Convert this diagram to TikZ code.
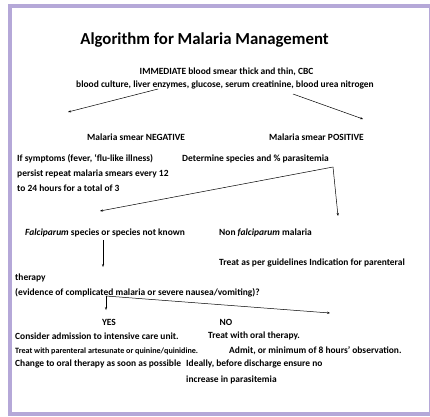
\documentclass[tikz,border=0pt]{standalone}
\usepackage{fontspec}
\setmainfont{Carlito}
\usetikzlibrary{arrows.meta}
\definecolor{frame}{RGB}{181,168,216}
\tikzset{
  base/.style={inner sep=0pt,font=\bfseries\fontsize{9.45}{11}\selectfont},
  txt/.style={base,anchor=west},
  small/.style={anchor=west,inner sep=0pt,font=\bfseries\fontsize{8.1}{9}\selectfont},
  arr/.style={-{Stealth[length=3pt,width=2.2pt]},line width=0.5pt,black}
}
\begin{document}
\begin{tikzpicture}[x=1pt,y=-1pt]
\useasboundingbox (0,0) rectangle (430,416);
\fill[frame] (8,4) rectangle (430,416);
\fill[white] (12,8) rectangle (428.7,412);
\node[inner sep=0pt,font=\bfseries\fontsize{16.8}{20}\selectfont] (title) at (204.5,40) {Algorithm for Malaria Management};
\node[base] (imm) at (226.5,72) {IMMEDIATE blood smear thick and thin, CBC};
\node[base] (cult) at (225,85) {blood culture, liver enzymes, glucose, serum creatinine, blood urea nitrogen};
\coordinate (a1s) at (158,89); \coordinate (a1e) at (68,112);
\coordinate (a2s) at (293,94); \coordinate (a2e) at (363,119);
\draw[arr] (a1s) -- (a1e);
\draw[arr] (a2s) -- (a2e);
\node[txt] (neg) at (87,137) {Malaria smear NEGATIVE};
\node[txt] (pos) at (269,137) {Malaria smear POSITIVE};
\node[txt] (sym1) at (17,159) {If symptoms (fever, ‘flu-like illness)};
\node[txt] (sym2) at (17,174) {persist repeat malaria smears every 12};
\node[txt] (sym3) at (17,188) {to 24 hours for a total of 3};
\node[txt] (det) at (182,159) {Determine species and \% parasitemia};
\coordinate (b0) at (333,167);
\coordinate (b1e) at (100,211);
\coordinate (b2e) at (338,216);
\draw[arr] (b0) -- (b1e);
\draw[arr] (b0) -- (b2e);
\node[txt] (falc) at (25,233) {\textit{Falciparum} species or species not known};
\node[txt] (nonf) at (219,233) {Non \textit{falciparum} malaria};
\coordinate (c1s) at (103,240); \coordinate (c1e) at (103,267);
\draw[arr] (c1s) -- (c1e);
\node[txt] (treat) at (219,263) {Treat as per guidelines Indication for parenteral};
\node[txt] (ther) at (15,278) {therapy};
\node[txt] (evid) at (15,293) {(evidence of complicated malaria or severe nausea/vomiting)?};
\coordinate (d0) at (106,296);
\coordinate (d1e) at (106,310);
\coordinate (d2e) at (330,313);
\draw[arr] (d0) -- (d1e);
\draw[arr] (d0) -- (d2e);
\node[base] (yes) at (109,322) {YES};
\node[base] (no) at (226,322) {NO};
\node[txt] (y1) at (15,336) {Consider admission to intensive care unit.};
\node[txt] (n1) at (208,336) {Treat with oral therapy.};
\node[small] (y2) at (15,351) {Treat with parenteral artesunate or quinine/quinidine.};
\node[txt] (n2) at (229,351) {Admit, or minimum of 8 hours’ observation.};
\node[txt] (y3) at (15,364) {Change to oral therapy as soon as possible};
\node[txt] (n3) at (186,364) {Ideally, before discharge ensure no};
\node[txt] (n4) at (186,380) {increase in parasitemia};
\end{tikzpicture}
\end{document}
